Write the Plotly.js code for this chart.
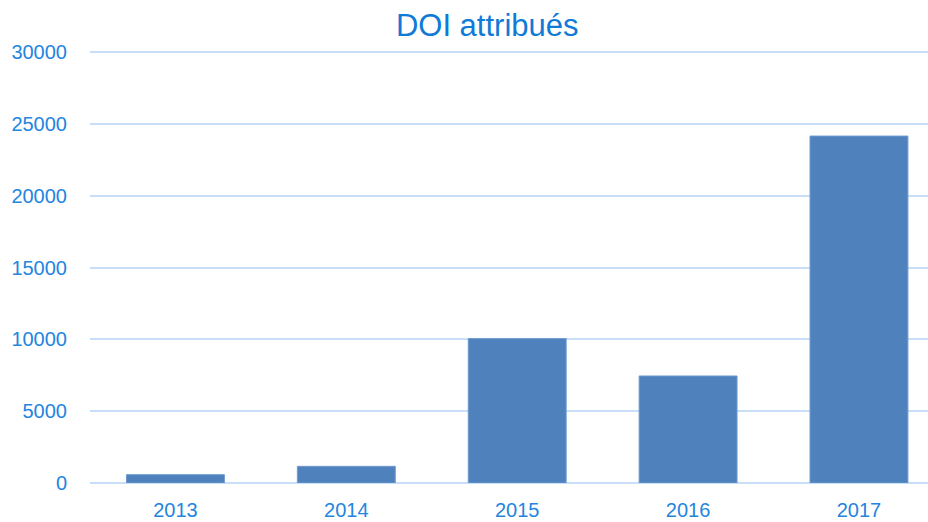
<!DOCTYPE html>
<html>
<head>
<meta charset="utf-8">
<script src="https://cdn.plot.ly/plotly-3.0.1.min.js"></script>
<style>html,body{margin:0;padding:0;background:#fff;}#chart{width:928px;height:522px;}</style>
</head>
<body>
<div id="chart"></div>
<script>
const years = ['2013', '2014', '2015', '2016', '2017'];
const doiCounts = [580, 1160, 10050, 7450, 24150];
const tickValues = [0, 5000, 10000, 15000, 20000, 25000, 30000];

const FONT = '"Liberation Sans Narrow", "Arial Narrow", "Liberation Sans", Arial, sans-serif';
const TEXT_COLOR = '#2385de';

Plotly.newPlot('chart', [{
  type: 'bar',
  x: years,
  y: doiCounts,
  marker: {color: '#4f81bd', line: {color: '#6f9bd0', width: 1}},
  hoverinfo: 'x+y'
}], {
  width: 928,
  height: 522,
  margin: {l: 90, r: 0, t: 51, b: 39, pad: 0},
  paper_bgcolor: '#ffffff',
  plot_bgcolor: '#ffffff',
  bargap: 0.427,
  showlegend: false,
  title: {
    text: 'DOI attribués',
    font: {family: FONT, size: 31, color: '#0f7ad8'},
    x: 0.525, xanchor: 'center',
    y: 0.952, yanchor: 'middle'
  },
  xaxis: {
    type: 'category',
    range: [-0.5, 4.404],
    showgrid: false,
    showline: false,
    zeroline: false,
    ticks: '',
    tickfont: {family: FONT, size: 20, color: TEXT_COLOR},
    ticklabelstandoff: 13
  },
  yaxis: {
    range: [0, 30070],
    tickvals: tickValues,
    ticktext: tickValues.map(String),
    showgrid: true,
    gridcolor: '#c7e0f7',
    gridwidth: 2,
    zeroline: true,
    zerolinecolor: '#c7e0f7',
    zerolinewidth: 2,
    showline: false,
    ticks: '',
    tickfont: {family: FONT, size: 20, color: TEXT_COLOR},
    ticklabelstandoff: 22
  }
}, {displayModeBar: false, staticPlot: true});
</script>
</body>
</html>
